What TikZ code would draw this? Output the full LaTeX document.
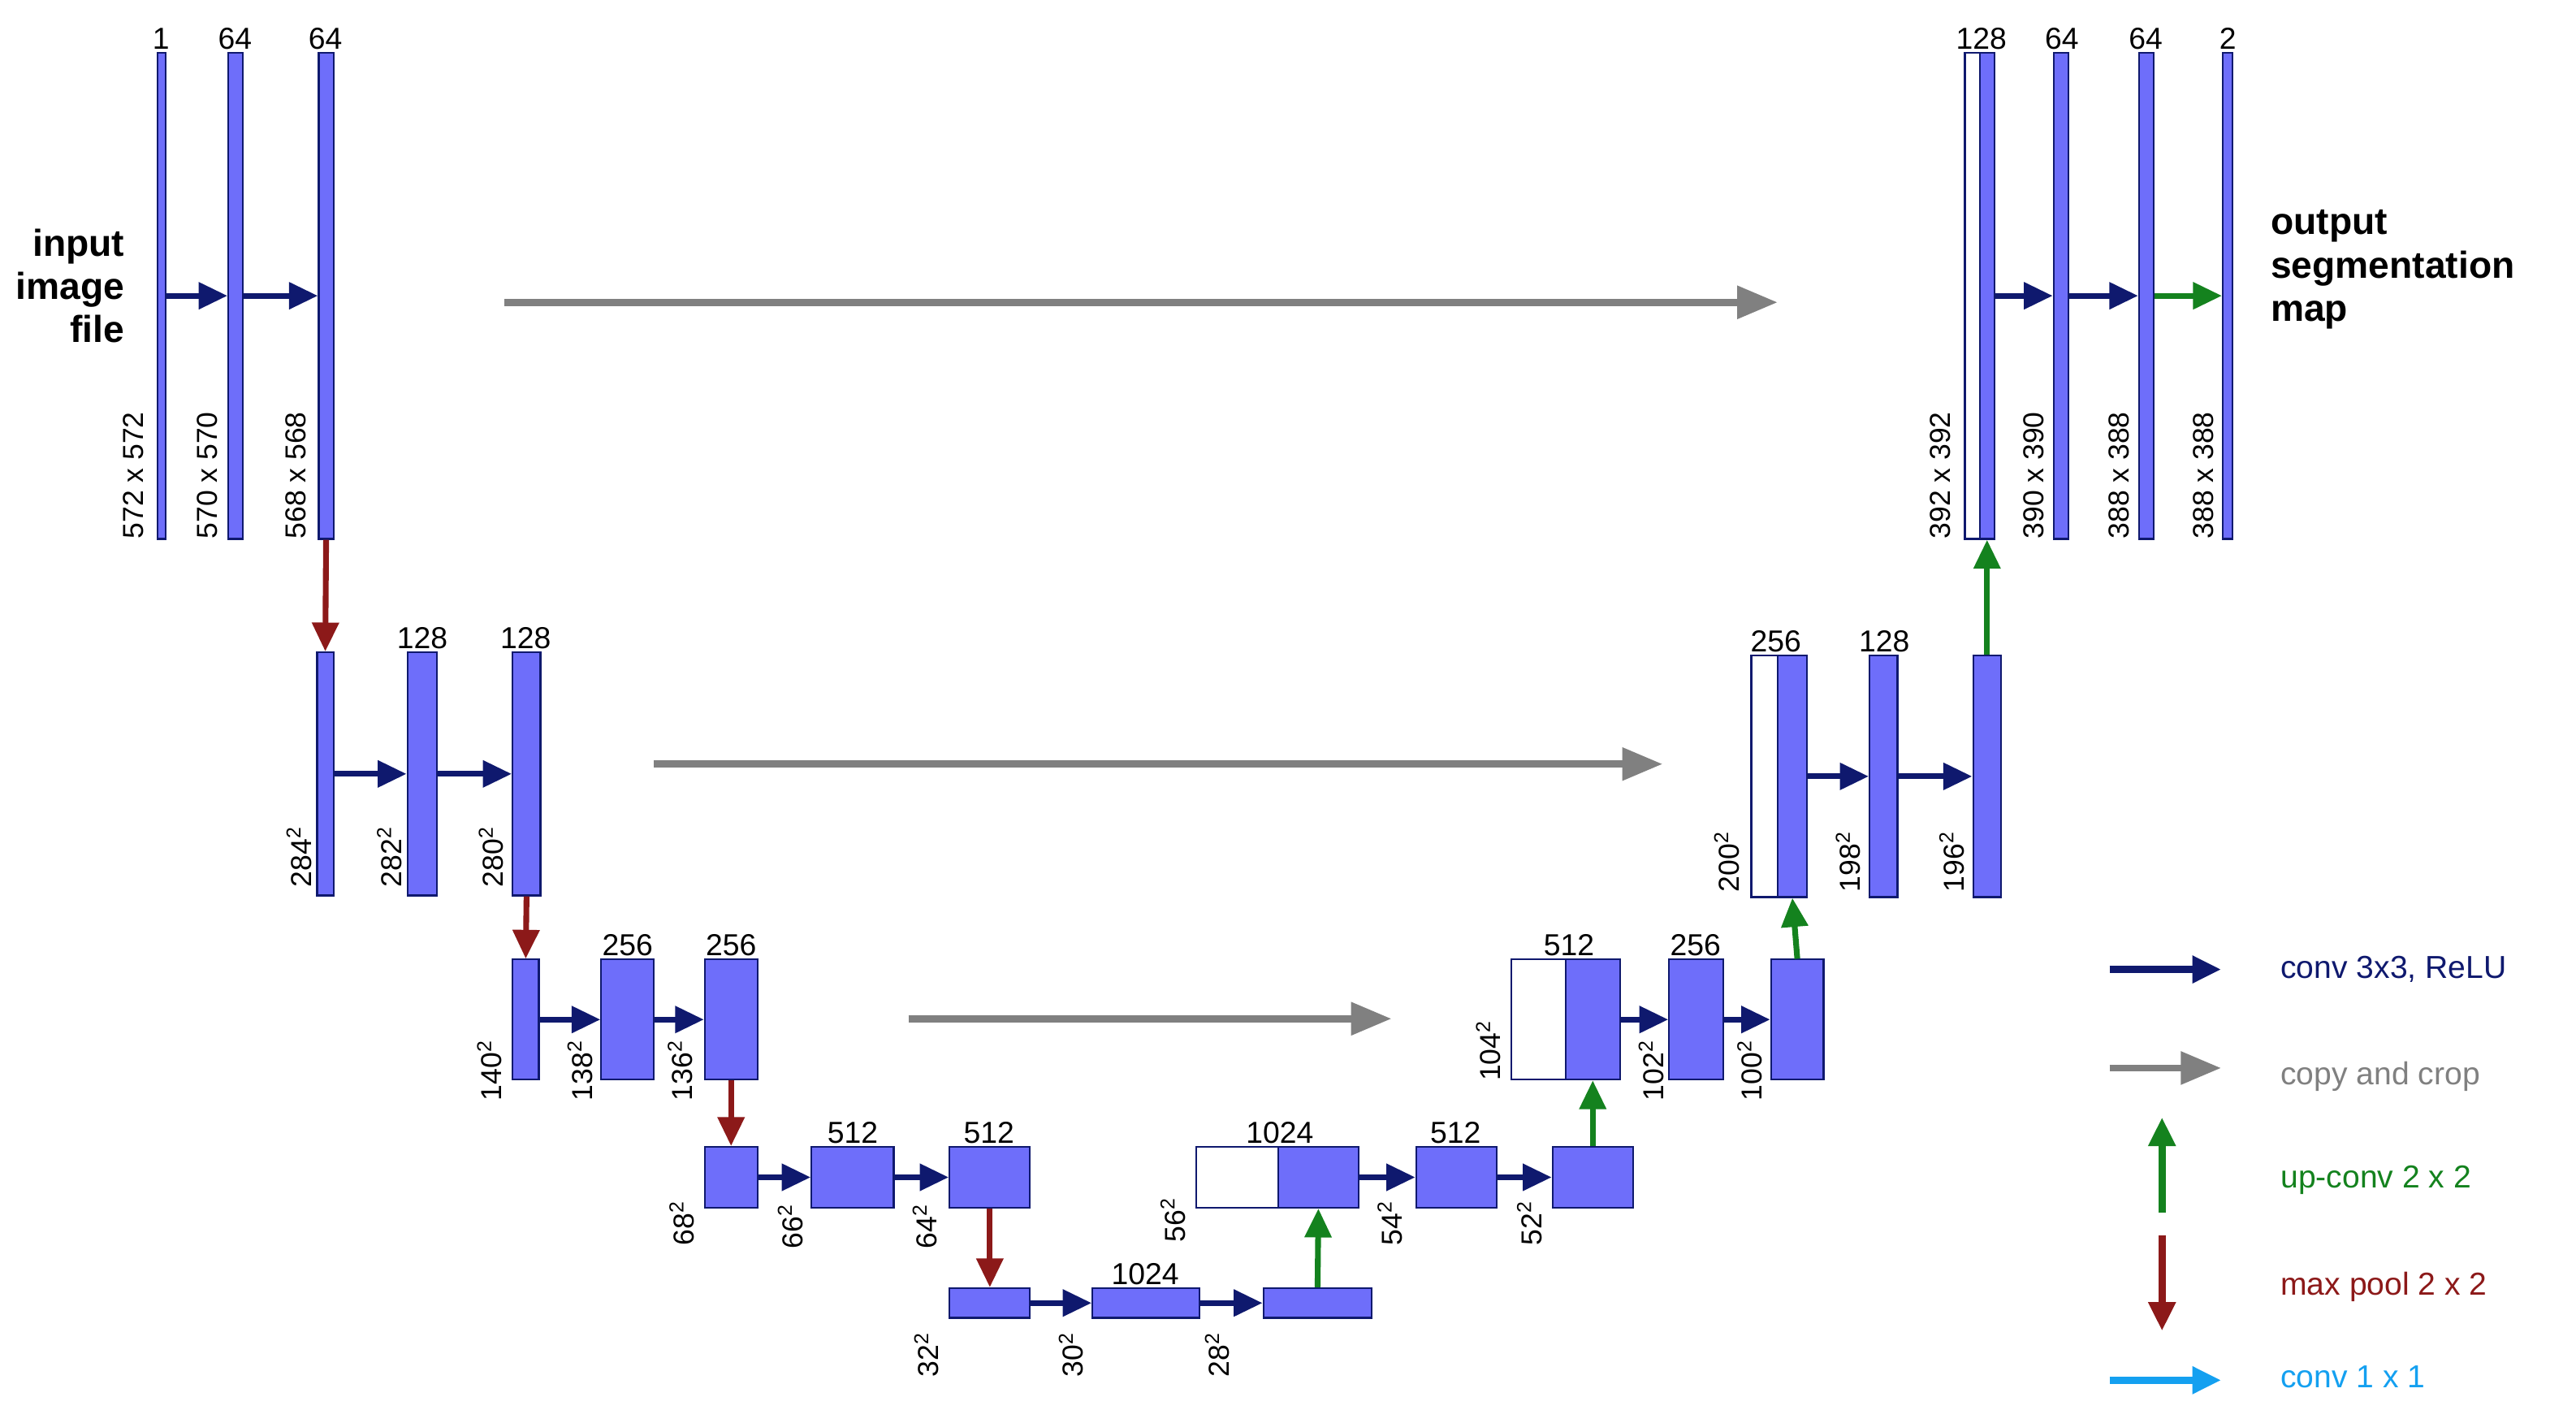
\documentclass[tikz,border=0pt]{standalone}
\usepackage{fontspec}
\setmainfont{Liberation Sans}
\usetikzlibrary{fit,arrows.meta}
\definecolor{barblue}{RGB}{110,110,250}
\definecolor{navy}{RGB}{15,25,110}
\definecolor{cgray}{RGB}{128,128,128}
\definecolor{cgreen}{RGB}{20,130,30}
\definecolor{cred}{RGB}{140,25,25}
\definecolor{ccyan}{RGB}{20,160,240}
\newcommand\ubar[5]{\node[bar,fit={(#2,#3)(#4,#5)}] (#1) {};}
\newcommand\wbar[5]{\node[bar,fill=white,fit={(#2,#3)(#4,#5)}] (#1) {};}
\newcommand\dimlab[3]{\node[dim] at (#1,#2) {#3};}
\newcommand\sq[1]{#1\textsuperscript{2}}
\begin{document}
\begin{tikzpicture}[x=0.02cm,y=-0.02cm,
  bar/.style={draw=navy,fill=barblue,line width=0.6pt,inner sep=0pt},
  dim/.style={rotate=90,anchor=west,font=\fontsize{10}{12}\selectfont,inner sep=1pt},
  ch/.style={font=\fontsize{10.5}{12}\selectfont,inner sep=1pt,anchor=south},
  conv/.style={navy,line width=2pt,-{Triangle[length=10pt,width=9pt]}},
  copy/.style={cgray,line width=2.4pt,-{Triangle[length=14pt,width=11pt]}},
  up/.style={cgreen,line width=2pt,-{Triangle[length=10pt,width=9pt]}},
  pool/.style={cred,line width=2pt,-{Triangle[length=10pt,width=9pt]}},
  one/.style={ccyan,line width=2pt,-{Triangle[length=10pt,width=9pt]}},
  leg/.style={anchor=west,font=\fontsize{11}{13}\selectfont}]
\useasboundingbox (0,0) rectangle (1568,866);
% level 1
\ubar{a1}{96}{32}{101}{328}
\ubar{a2}{139}{32}{148}{328}
\ubar{a3}{194}{32}{203}{328}
\draw[conv] (a1.east) -- (a2.west);
\draw[conv] (a2.east) -- (a3.west);
\node[ch] at (98,32) {1};
\node[ch] at (143,32) {64};
\node[ch] at (198,32) {64};
\dimlab{81}{330}{572 x 572}
\dimlab{126}{330}{570 x 570}
\dimlab{180}{330}{568 x 568}
\node[anchor=east,align=right,font=\bfseries\fontsize{13}{15}\selectfont] at (82,174) {input\\image\\file};
% level 2
\ubar{b1}{193}{397}{203}{545}
\ubar{b2}{248}{397}{266}{545}
\ubar{b3}{312}{397}{329}{545}
\draw[conv] (b1.east) -- (b2.west);
\draw[conv] (b2.east) -- (b3.west);
\node[ch] at (257,397) {128};
\node[ch] at (320,397) {128};
\dimlab{182}{542}{\sq{284}}
\dimlab{237}{542}{\sq{282}}
\dimlab{299}{542}{\sq{280}}
\draw[pool] (a3.south) -- (b1.north);
% level 3
\ubar{c1}{312}{584}{328}{657}
\ubar{c2}{366}{584}{398}{657}
\ubar{c3}{429}{584}{461}{657}
\draw[conv] (c1.east) -- (c2.west);
\draw[conv] (c2.east) -- (c3.west);
\node[ch] at (382,584) {256};
\node[ch] at (445,584) {256};
\dimlab{298}{672}{\sq{140}}
\dimlab{353}{672}{\sq{138}}
\dimlab{414}{672}{\sq{136}}
\draw[pool] (b3.south) -- (c1.north);
% level 4
\ubar{d1}{429}{698}{461}{735}
\ubar{d2}{494}{698}{544}{735}
\ubar{d3}{578}{698}{627}{735}
\draw[conv] (d1.east) -- (d2.west);
\draw[conv] (d2.east) -- (d3.west);
\node[ch] at (519,698) {512};
\node[ch] at (602,698) {512};
\dimlab{415}{760}{\sq{68}}
\dimlab{481}{762}{\sq{66}}
\dimlab{563}{762}{\sq{64}}
\draw[pool] (c3.south) -- (d1.north);
% level 5
\ubar{e1}{578}{784}{627}{802}
\ubar{e2}{665}{784}{730}{802}
\ubar{e3}{769}{784}{835}{802}
\draw[conv] (e1.east) -- (e2.west);
\draw[conv] (e2.east) -- (e3.west);
\node[ch] at (697,784) {1024};
\dimlab{564}{840}{\sq{32}}
\dimlab{652}{840}{\sq{30}}
\dimlab{741}{840}{\sq{28}}
\draw[pool] (d3.south) -- (e1.north);
% up level 4
\wbar{f0}{728}{698}{778}{735}
\ubar{f1}{778}{698}{827}{735}
\ubar{f2}{862}{698}{911}{735}
\ubar{f3}{945}{698}{994}{735}
\draw[conv] (f1.east) -- (f2.west);
\draw[conv] (f2.east) -- (f3.west);
\node[ch] at (779,698) {1024};
\node[ch] at (886,698) {512};
\dimlab{714}{758}{\sq{56}}
\dimlab{846}{760}{\sq{54}}
\dimlab{931}{760}{\sq{52}}
\draw[up] (e3.north) -- (f1.south);
% up level 3
\wbar{g0}{920}{584}{953}{657}
\ubar{g1}{953}{584}{986}{657}
\ubar{g2}{1016}{584}{1049}{657}
\ubar{g3}{1078}{584}{1110}{657}
\draw[conv] (g1.east) -- (g2.west);
\draw[conv] (g2.east) -- (g3.west);
\node[ch] at (955,584) {512};
\node[ch] at (1032,584) {256};
\dimlab{906}{660}{\sq{104}}
\dimlab{1005}{672}{\sq{102}}
\dimlab{1065}{672}{\sq{100}}
\draw[up] (f3.north) -- (g1.south);
% up level 2
\wbar{h0}{1066}{399}{1082}{546}
\ubar{h1}{1082}{399}{1100}{546}
\ubar{h2}{1138}{399}{1155}{546}
\ubar{h3}{1201}{399}{1218}{546}
\draw[conv] (h1.east) -- (h2.west);
\draw[conv] (h2.east) -- (h3.west);
\node[ch] at (1081,399) {256};
\node[ch] at (1147,399) {128};
\dimlab{1051}{545}{\sq{200}}
\dimlab{1125}{545}{\sq{198}}
\dimlab{1188}{545}{\sq{196}}
\draw[up] (g3.north) -- (h1.south);
% up level 1
\wbar{k0}{1196}{32}{1205}{328}
\ubar{k1}{1205}{32}{1214}{328}
\ubar{k2}{1250}{32}{1259}{328}
\ubar{k3}{1302}{32}{1311}{328}
\ubar{k4}{1353}{32}{1359}{328}
\draw[conv] (k1.east) -- (k2.west);
\draw[conv] (k2.east) -- (k3.west);
\draw[up] (k3.east) -- (k4.west);
\node[ch] at (1206,32) {128};
\node[ch] at (1255,32) {64};
\node[ch] at (1306,32) {64};
\node[ch] at (1356,32) {2};
\dimlab{1181}{330}{392 x 392}
\dimlab{1238}{330}{390 x 390}
\dimlab{1290}{330}{388 x 388}
\dimlab{1341}{330}{388 x 388}
\draw[up] (h3.north) -- (k1.south);
\node[anchor=west,align=left,font=\bfseries\fontsize{13}{15}\selectfont] at (1376,164) {output\\segmentation\\map};
% copy and crop
\coordinate (s1) at (307,184); \coordinate (t1) at (1082,184);
\coordinate (s2) at (398,465); \coordinate (t2) at (1012,465);
\coordinate (s3) at (553,620); \coordinate (t3) at (847,620);
\draw[copy] (s1) -- (t1);
\draw[copy] (s2) -- (t2);
\draw[copy] (s3) -- (t3);
% legend
\coordinate (l1a) at (1284,590); \coordinate (l1b) at (1352,590);
\coordinate (l2a) at (1284,650); \coordinate (l2b) at (1352,650);
\coordinate (l3a) at (1316,738); \coordinate (l3b) at (1316,680);
\coordinate (l4a) at (1316,752); \coordinate (l4b) at (1316,810);
\coordinate (l5a) at (1284,840); \coordinate (l5b) at (1352,840);
\draw[conv,line width=2.6pt] (l1a) -- (l1b);
\draw[copy] (l2a) -- (l2b);
\draw[up,line width=2.6pt] (l3a) -- (l3b);
\draw[pool,line width=2.6pt] (l4a) -- (l4b);
\draw[one,line width=2.6pt] (l5a) -- (l5b);
\node[leg,text=navy] at (1382,590) {conv 3x3, ReLU};
\node[leg,text=cgray] at (1382,655) {copy and crop};
\node[leg,text=cgreen] at (1382,718) {up-conv 2 x 2};
\node[leg,text=cred] at (1382,783) {max pool 2 x 2};
\node[leg,text=ccyan] at (1382,838) {conv 1 x 1};
\end{tikzpicture}
\end{document}
